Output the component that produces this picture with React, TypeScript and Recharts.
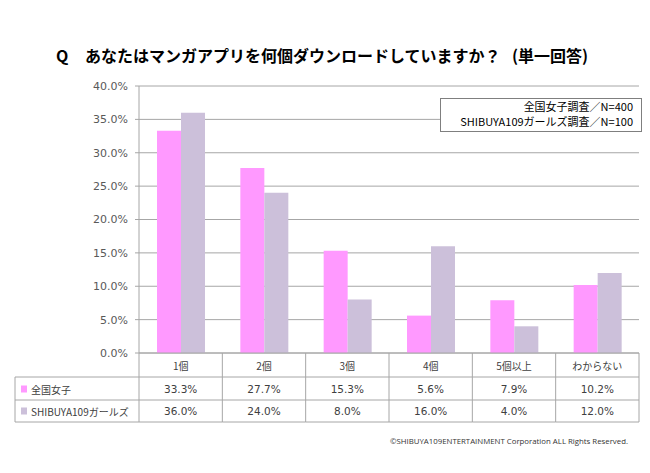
import { BarChart, Bar, XAxis, YAxis, CartesianGrid } from "recharts";

// 何個ダウンロード — 全国女子 vs SHIBUYA109ガールズ (%)
const CATEGORIES = ["1個", "2個", "3個", "4個", "5個以上", "わからない"];
const ZENKOKU = [33.3, 27.7, 15.3, 5.6, 7.9, 10.2];
const SHIBUYA = [36.0, 24.0, 8.0, 16.0, 4.0, 12.0];
const SERIES_NAMES = ["全国女子", "SHIBUYA109ガールズ"];
const Y_TICKS = [0, 5, 10, 15, 20, 25, 30, 35, 40];
const LEGEND_LINES = ["全国女子調査／N=400", "SHIBUYA109ガールズ調査／N=100"];

const W = 650;
const H = 473;
const PLOT_LEFT = 139;
const PLOT_RIGHT = 11;
const BAND = (W - PLOT_LEFT - PLOT_RIGHT) / CATEGORIES.length;
const TABLE_LEFT = 15;

const PINK = "#ff99ff";
const LAVENDER = "#ccc0da";
const GRID = "#a6a6a6";
const TEXT = "#404040";
const NUM_FONT = "DejaVu Sans, Verdana, sans-serif";
const JP_FONT = "'Noto Sans CJK JP', sans-serif";

const data = CATEGORIES.map((c, i) => ({ name: c, z: ZENKOKU[i], s: SHIBUYA[i] }));

const fmt = (v: number) => `${v.toFixed(1)}%`;

function TableTick(props: any) {
  const { x, y, index } = props;
  const half = BAND / 2;
  const r1 = y + 24;
  const r2 = y + 47;
  const r3 = y + 69;
  const fills = [PINK, LAVENDER];
  const values = [ZENKOKU, SHIBUYA];
  return (
    <g>
      <line x1={x + half} y1={y} x2={x + half} y2={r3} stroke={GRID} />
      {[r1, r2, r3].map((ry) => (
        <line key={ry} x1={x - half} y1={ry} x2={x + half} y2={ry} stroke={GRID} />
      ))}
      <text x={x} y={y + 12} textAnchor="middle" dominantBaseline="central"
        fontSize={10} fontFamily={JP_FONT} fill={TEXT}>
        {CATEGORIES[index]}
      </text>
      {values.map((vals, k) => (
        <text key={k} x={x} y={k === 0 ? y + 36 : y + 58} textAnchor="middle"
          dominantBaseline="central" fontSize={10.5} fontFamily={NUM_FONT} fill={TEXT}>
          {fmt(vals[index])}
        </text>
      ))}
      {index === 0 && (
        <g>
          <line x1={x - half} y1={y} x2={x - half} y2={r3} stroke={GRID} />
          <line x1={TABLE_LEFT} y1={r1} x2={TABLE_LEFT} y2={r3} stroke={GRID} />
          {[r1, r2, r3].map((ry) => (
            <line key={ry} x1={TABLE_LEFT} y1={ry} x2={x - half} y2={ry} stroke={GRID} />
          ))}
          {SERIES_NAMES.map((n, k) => {
            const cy = k === 0 ? y + 36 : y + 58;
            return (
              <g key={n}>
                <rect x={TABLE_LEFT + 6} y={cy - 3.5} width={6} height={7} fill={fills[k]} />
                <text x={TABLE_LEFT + 16} y={cy} dominantBaseline="central"
                  fontSize={10} fontFamily={JP_FONT} fill={TEXT}>
                  {n}
                </text>
              </g>
            );
          })}
        </g>
      )}
    </g>
  );
}

export default function App() {
  return (
    <div style={{ position: "absolute", left: 0, top: 0, width: W, height: H, background: "#fff" }}>
      <BarChart width={W} height={H} data={data} barGap={0}
        margin={{ top: 86, right: PLOT_RIGHT, left: 0, bottom: 0 }}>
        <CartesianGrid vertical={false} stroke={GRID} />
        <XAxis dataKey="name" height={120} interval={0} tickLine={false}
          tickSize={0} tickMargin={0} axisLine={{ stroke: GRID }}
          tick={<TableTick />} />
        <YAxis width={PLOT_LEFT} domain={[0, 40]} ticks={Y_TICKS} tickFormatter={fmt}
          axisLine={{ stroke: GRID }} tickLine={{ stroke: GRID }} tickSize={4} tickMargin={7}
          tick={{ fontSize: 11, fontFamily: NUM_FONT, fill: "#595959" }} />
        <Bar dataKey="z" fill={PINK} barSize={24} isAnimationActive={false} />
        <Bar dataKey="s" fill={LAVENDER} barSize={24} isAnimationActive={false} />
      </BarChart>
      <svg width={W} height={H} style={{ position: "absolute", left: 0, top: 0, pointerEvents: "none" }}>
        <g fontFamily={JP_FONT} fontWeight="bold" fontSize={16} fill="#000">
          <text x={56} y={62}>Q</text>
          <text x={85} y={62}>あなたはマンガアプリを何個ダウンロードしていますか？</text>
          <text x={512} y={62}>(単一回答)</text>
        </g>
        <rect x={440.5} y={98.5} width={201} height={33} fill="#fff" stroke="#7f7f7f" />
        {LEGEND_LINES.map((t, i) => (
          <text key={t} x={633} y={106 + i * 15} textAnchor="end" dominantBaseline="central"
            fontSize={11} fontFamily={JP_FONT} fill="#000">
            {t}
          </text>
        ))}
        <text x={390} y={440} dominantBaseline="central" fontSize={8}
          fontFamily="'Open Sans', sans-serif" fill="#333" textLength={238}
          lengthAdjust="spacingAndGlyphs">
          ©SHIBUYA109ENTERTAINMENT  Corporation  ALL Rights Reserved.
        </text>
      </svg>
    </div>
  );
}
